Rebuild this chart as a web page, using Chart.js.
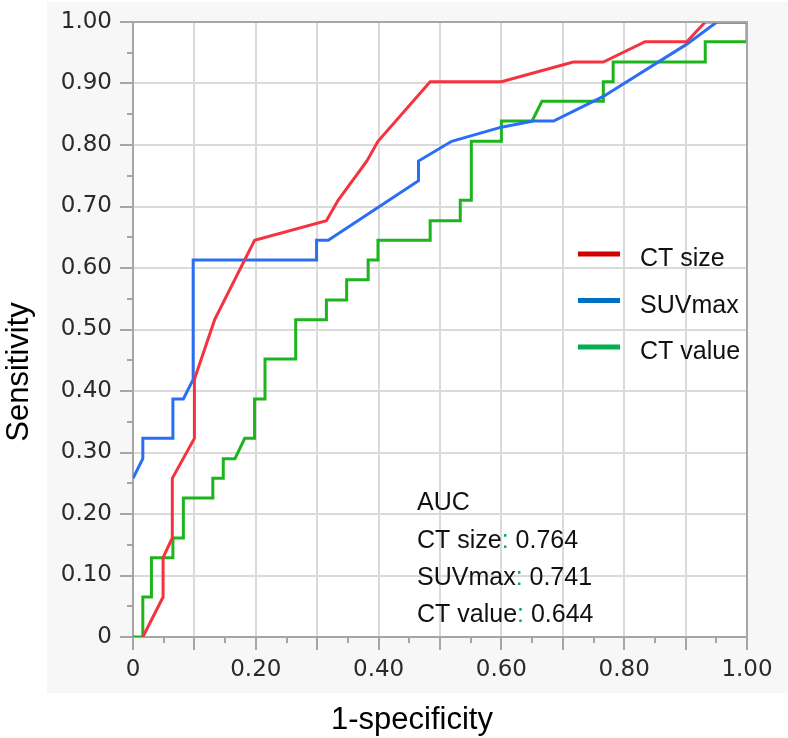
<!DOCTYPE html>
<html>
<head>
<meta charset="utf-8">
<script src="https://cdn.jsdelivr.net/npm/chart.js@4.4.1/dist/chart.umd.min.js"></script>
<style>
  html, body { margin: 0; padding: 0; background: #fff; }
  #wrap { width: 788px; height: 738px; }
</style>
</head>
<body>
<div id="wrap"><canvas id="roc" width="788" height="738"></canvas></div>
<script>
// ROC curves, values
const seriesNames = ['CT size', 'SUVmax', 'CT value'];
const aucValues = [0.764, 0.741, 0.644];
const curveColors = ['#f5333f', '#2a6ef5', '#1db51d'];
const legendColors = ['#d00000', '#0070c0', '#00b050'];

const ctSizeFpr = [0.016, 0.049, 0.049, 0.064, 0.064, 0.100, 0.100, 0.133, 0.198, 0.315, 0.334, 0.381, 0.399, 0.484, 0.600, 0.717, 0.766, 0.834, 0.902, 0.932, 1.000];
const ctSizeTpr = [0.000, 0.065, 0.129, 0.161, 0.258, 0.323, 0.419, 0.516, 0.645, 0.677, 0.710, 0.774, 0.806, 0.903, 0.903, 0.935, 0.935, 0.968, 0.968, 1.000, 1.000];

const suvFpr = [0.000, 0.016, 0.016, 0.065, 0.065, 0.082, 0.098, 0.098, 0.299, 0.299, 0.318, 0.465, 0.465, 0.519, 0.600, 0.652, 0.685, 0.766, 0.902, 0.951, 1.000];
const suvTpr = [0.258, 0.290, 0.323, 0.323, 0.387, 0.387, 0.419, 0.613, 0.613, 0.645, 0.645, 0.742, 0.774, 0.806, 0.829, 0.839, 0.839, 0.879, 0.964, 1.000, 1.000];

const ctValueFpr = [0.000, 0.016, 0.016, 0.030, 0.030, 0.065, 0.065, 0.082, 0.082, 0.130, 0.130, 0.147, 0.147, 0.166, 0.182, 0.198, 0.198, 0.215, 0.215, 0.265, 0.265, 0.315, 0.315, 0.348, 0.348, 0.383, 0.383, 0.399, 0.399, 0.484, 0.484, 0.533, 0.533, 0.551, 0.551, 0.600, 0.600, 0.650, 0.666, 0.766, 0.766, 0.782, 0.782, 0.932, 0.932, 1.000, 1.000];
const ctValueTpr = [0.000, 0.000, 0.065, 0.065, 0.129, 0.129, 0.161, 0.161, 0.226, 0.226, 0.258, 0.258, 0.290, 0.290, 0.323, 0.323, 0.387, 0.387, 0.452, 0.452, 0.516, 0.516, 0.548, 0.548, 0.581, 0.581, 0.613, 0.613, 0.645, 0.645, 0.677, 0.677, 0.710, 0.710, 0.806, 0.806, 0.839, 0.839, 0.871, 0.871, 0.903, 0.903, 0.935, 0.935, 0.968, 0.968, 1.000];

const xTitle = '1-specificity';
const yTitle = 'Sensitivity';

function toPoints(xs, ys) {
  return xs.map(function(x, i) { return { x: x, y: ys[i] }; });
}

function curve(i, xs, ys) {
  return {
    label: seriesNames[i],
    data: toPoints(xs, ys),
    showLine: true,
    borderColor: curveColors[i],
    backgroundColor: curveColors[i],
    borderWidth: 3,
    pointRadius: 0,
    tension: 0,
    legendColor: legendColors[i]
  };
}

const isMajor = function(c) { return c.index % 2 === 0; };
const tickFont = { family: "'DejaVu Sans', sans-serif", size: 23 };
const textFont = "25px 'Liberation Sans', Arial, sans-serif";

// grey panel, white plot area, minor ticks, frame, legend, AUC note and axis titles
const decor = {
  id: 'decor',
  beforeDraw(chart) {
    const ctx = chart.ctx, a = chart.chartArea;
    ctx.save();
    ctx.fillStyle = '#ffffff';
    ctx.fillRect(0, 0, chart.width, chart.height);
    ctx.fillStyle = '#f7f7f7';
    ctx.fillRect(a.left - 86, a.top - 20, chart.width - a.left + 86, a.bottom - a.top + 76);
    ctx.fillStyle = '#ffffff';
    ctx.fillRect(a.left, a.top, a.right - a.left, a.bottom - a.top);
    ctx.restore();
  },
  afterDraw(chart) {
    const ctx = chart.ctx, a = chart.chartArea;
    const xs = chart.scales.x, ys = chart.scales.y;
    ctx.save();

    // minor ticks at the 0.05 steps
    ctx.strokeStyle = '#a6a6a6';
    ctx.lineWidth = 2;
    ctx.beginPath();
    xs.ticks.forEach(function(t, i) {
      if (i % 2 === 1) {
        const px = Math.round(xs.getPixelForValue(t.value));
        ctx.moveTo(px, a.bottom);
        ctx.lineTo(px, a.bottom + 6);
      }
    });
    ys.ticks.forEach(function(t, i) {
      if (i % 2 === 1) {
        const py = Math.round(ys.getPixelForValue(t.value));
        ctx.moveTo(a.left - 6, py);
        ctx.lineTo(a.left, py);
      }
    });
    // top and right edges of the frame
    ctx.moveTo(a.left, a.top);
    ctx.lineTo(a.right, a.top);
    ctx.lineTo(a.right, a.bottom);
    ctx.stroke();

    // legend inside the plot
    ctx.font = textFont;
    ctx.textAlign = 'left';
    ctx.textBaseline = 'alphabetic';
    chart.data.datasets.forEach(function(ds, i) {
      const ly = a.top + 232 + i * 46.5;
      ctx.strokeStyle = ds.legendColor;
      ctx.lineWidth = 5;
      ctx.beginPath();
      ctx.moveTo(a.right - 169, ly);
      ctx.lineTo(a.right - 127, ly);
      ctx.stroke();
      ctx.fillStyle = '#111111';
      ctx.fillText(ds.label, a.right - 107, ly + 12);
    });

    // AUC note
    const nx = a.left + 284;
    ctx.fillStyle = '#111111';
    ctx.fillText('AUC', nx, a.bottom - 127);
    seriesNames.forEach(function(name, i) {
      const by = a.bottom - 89 + i * 37;
      let cx = nx;
      ctx.fillStyle = '#111111';
      ctx.fillText(name, cx, by);
      cx += ctx.measureText(name).width;
      ctx.fillStyle = '#00b050';
      ctx.fillText(':', cx, by);
      cx += ctx.measureText(':').width;
      ctx.fillStyle = '#111111';
      ctx.fillText(' ' + aucValues[i].toFixed(3), cx, by);
    });

    // axis titles
    ctx.font = "31px 'Liberation Sans', Arial, sans-serif";
    ctx.fillStyle = '#000000';
    ctx.textAlign = 'center';
    ctx.fillText(xTitle, a.left + 279, a.bottom + 92);
    ctx.translate(28, a.top + 350);
    ctx.rotate(-Math.PI / 2);
    ctx.fillText(yTitle, 0, 0);
    ctx.restore();
  }
};

new Chart(document.getElementById('roc'), {
  type: 'scatter',
  data: {
    datasets: [
      curve(0, ctSizeFpr, ctSizeTpr),
      curve(1, suvFpr, suvTpr),
      curve(2, ctValueFpr, ctValueTpr)
    ]
  },
  options: {
    responsive: false,
    animation: false,
    devicePixelRatio: 1,
    layout: { padding: { top: 22, right: 41, left: 0, bottom: 0 } },
    plugins: {
      legend: { display: false },
      tooltip: { enabled: false }
    },
    scales: {
      x: {
        type: 'linear',
        min: 0,
        max: 1,
        afterFit: function(s) { s.height = 101; },
        border: { display: true, color: '#a6a6a6', width: 2 },
        grid: {
          color: function(c) { return isMajor(c) ? '#dadada' : 'rgba(0,0,0,0)'; },
          lineWidth: 2,
          tickLength: 13,
          tickWidth: 2,
          tickColor: function(c) { return isMajor(c) ? '#a6a6a6' : 'rgba(0,0,0,0)'; }
        },
        ticks: {
          stepSize: 0.05,
          maxTicksLimit: 21,
          autoSkip: false,
          maxRotation: 0,
          padding: 6,
          color: '#2a2a2a',
          font: tickFont,
          callback: function(v, i) {
            if (i % 4 !== 0) return '';
            return v === 0 ? '0' : v.toFixed(2);
          }
        }
      },
      y: {
        type: 'linear',
        min: 0,
        max: 1,
        afterFit: function(s) { s.width = 133; },
        border: { display: true, color: '#a6a6a6', width: 2 },
        grid: {
          color: function(c) { return isMajor(c) ? '#dadada' : 'rgba(0,0,0,0)'; },
          lineWidth: 2,
          tickLength: 13,
          tickWidth: 2,
          tickColor: function(c) { return isMajor(c) ? '#a6a6a6' : 'rgba(0,0,0,0)'; }
        },
        ticks: {
          stepSize: 0.05,
          maxTicksLimit: 21,
          autoSkip: false,
          padding: 8,
          color: '#2a2a2a',
          font: tickFont,
          callback: function(v, i) {
            if (i % 2 !== 0) return '';
            return v === 0 ? '0' : v.toFixed(2);
          }
        }
      }
    }
  },
  plugins: [decor]
});
</script>
</body>
</html>
